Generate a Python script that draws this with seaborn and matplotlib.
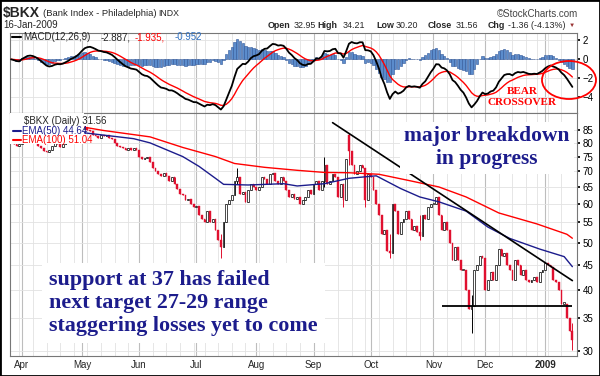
"""
$BKX 日线图 + MACD 面板（StockCharts 风格复刻）
"""

import numpy as np
import pandas as pd
import matplotlib

matplotlib.use("Agg")
import matplotlib.pyplot as plt
import seaborn as sns
from matplotlib.patches import Ellipse, Rectangle
from matplotlib.lines import Line2D
from matplotlib.ticker import FixedLocator, FixedFormatter, NullLocator

# ========== 配置部分 ==========
sns.set_theme(style="white")
plt.rcParams["font.family"] = ["Liberation Sans", "DejaVu Sans"]

W, H = 600, 376  # 像素尺寸

# ========== 数据 ==========
holidays = ["2008-05-26", "2008-07-04", "2008-09-01", "2008-11-27", "2008-12-25", "2009-01-01"]

# 每日收盘价，按月分组
closes_mar = [80.5, 79.5, 79.0, 79.5]
closes_apr = [83, 82.5, 83, 82, 81, 80, 79, 78, 77, 76.5, 77.5, 79, 80, 79.5, 78.5, 79.5,
              80.5, 81, 82, 81.5, 82.5, 84]
closes_may = [85.5, 86, 85, 84.5, 83, 82.5, 82, 83, 82.5, 83, 82, 81.5, 80, 79, 78.5, 78,
              77.5, 78, 77.5, 78, 77.5]
closes_jun = [75, 74, 74.5, 75, 73, 71, 70, 69, 68.5, 69.5, 68.5, 67, 68, 66, 64.5, 63,
              62.5, 61, 61.5, 60, 59]
closes_jul = [59.5, 57, 56, 55, 58, 55, 56, 53, 50.5, 49, 55, 60, 61, 62.5, 67, 68, 63,
              63.5, 60.5, 64, 66, 65]
closes_aug = [64, 65, 68, 67.5, 66, 69, 69.5, 67, 66, 68, 67, 64, 62, 63, 61.5, 62, 60, 61,
              62, 64, 63]
closes_sep = [66, 67, 64, 67, 72, 66, 67, 69, 68, 62, 66, 61, 74, 77, 72, 69, 70, 72, 71,
              61, 69]
closes_oct = [68, 64, 60, 57, 52, 53, 48, 47.5, 60, 58, 52, 55, 56, 58, 56, 53, 54, 52.5,
              51.5, 57, 56, 59, 60]
closes_nov = [60, 62, 57, 53, 55, 53, 50, 46, 49, 46, 44, 44, 40, 36.5, 37, 44, 45, 47, 46.5]
closes_dec = [40, 42, 43.5, 42, 45, 48.5, 47, 47.5, 45, 44, 42, 46, 45, 43, 44, 42, 41.5, 42,
              42.5, 41.5, 43.5, 44]
closes_jan = [45.5, 45, 44.5, 42, 41.5, 40, 37.5, 37.5, 35, 32.92, 31.56]

# 开盘价 = 前一日收盘，个别日期单独给出
open_dates = ["2008-09-19", "2009-01-16"]
open_values = [83, 32.95]

# 明显的影线
wick_dates = ["2008-07-15", "2008-07-23", "2008-09-08", "2008-09-17", "2008-09-19",
              "2008-09-29", "2008-10-10", "2008-10-27", "2008-11-21", "2009-01-16"]
wick_lows = [46.5, 66, 65, 59, 72, 59, 46.6, 50.5, 32.7, 30.2]
wick_highs = [52, 71, 75, 66, 84, 71, 52, 57, 39, 34.21]

# EMA 曲线（采样点）
ema100_dates = ["2008-03-26", "2008-04-15", "2008-05-01", "2008-05-13", "2008-06-06",
                "2008-06-24", "2008-07-11", "2008-07-22", "2008-08-06", "2008-08-22",
                "2008-09-08", "2008-09-19", "2008-10-06", "2008-10-21", "2008-11-05",
                "2008-11-19", "2008-12-08", "2008-12-29", "2009-01-14", "2009-01-16"]
ema100_vals = [89.5, 87.5, 86.3, 84.8, 82.3, 78.3, 75.0, 72.6, 71.3, 70.3, 69.6, 69.5,
               69.0, 67.0, 65.0, 62.0, 57.5, 54.6, 52.0, 51.04]
ema50_dates = ["2008-03-26", "2008-04-15", "2008-05-01", "2008-05-29", "2008-06-06",
               "2008-06-24", "2008-07-02", "2008-07-11", "2008-07-16", "2008-07-29",
               "2008-08-15", "2008-08-22", "2008-09-08", "2008-09-19", "2008-10-03",
               "2008-10-16", "2008-10-27", "2008-11-05", "2008-11-19", "2008-12-02",
               "2008-12-12", "2008-12-30", "2009-01-13", "2009-01-16"]
ema50_vals = [85.5, 84.0, 84.0, 81.6, 80.0, 75.0, 71.6, 67.7, 65.8, 65.6, 66.0, 65.3,
              66.0, 67.7, 68.5, 64.5, 62.0, 60.6, 58.0, 53.8, 51.0, 48.5, 46.8, 44.64]

# 趋势线 / 支撑线
trend_dates = ["2008-09-11", "2009-01-16"]
trend_vals = [88.0, 41.8]
support_dates = ["2008-11-06", "2009-01-16"]
support_val = 37

price_ticks = [30, 35, 40, 45, 50, 55, 60, 65, 70, 75, 80, 85]
macd_ticks = [-4, -2, 0, 2]
month_labels = ["Apr", "May", "Jun", "Jul", "Aug", "Sep", "Oct", "Nov", "Dec", "2009"]

# ========== 数据整理 ==========
closes = (closes_mar + closes_apr + closes_may + closes_jun + closes_jul + closes_aug
          + closes_sep + closes_oct + closes_nov + closes_dec + closes_jan)
days = pd.bdate_range("2008-03-26", "2009-01-16")
days = days[~days.isin(pd.to_datetime(holidays))]
pos = {d: i for i, d in enumerate(days)}


def xpos(dates):
    return [pos[pd.Timestamp(d)] for d in dates]


x = np.arange(len(days))
close = np.array(closes, dtype=float)
opens = np.r_[close[0], close[:-1]]
for i, v in zip(xpos(open_dates), open_values):
    opens[i] = v
lows = np.minimum(opens, close)
highs = np.maximum(opens, close)
for i, lo, hi in zip(xpos(wick_dates), wick_lows, wick_highs):
    lows[i] = min(lows[i], lo)
    highs[i] = max(highs[i], hi)

# MACD(12,26,9)
s = pd.Series(close)
macd = s.ewm(span=12, adjust=False).mean() - s.ewm(span=26, adjust=False).mean()
signal = macd.ewm(span=9, adjust=False).mean()
hist = macd - signal

month_pos = [i for i in range(1, len(days)) if days[i].month != days[i - 1].month]
week_pos = [i for i in range(1, len(days)) if days[i].weekday() < days[i - 1].weekday()]

# ========== 画布 ==========
fig = plt.figure(figsize=(W / 100, H / 100), dpi=100)
fig.patch.set_facecolor("white")


def fx(px):
    return px / W


def fy(py):
    return 1 - py / H


ax_m = fig.add_axes([fx(10), fy(113), 567 / W, 80 / H])
ax_p = fig.add_axes([fx(10), fy(356), 567 / W, 243 / H])

RED = "#e0102f"
NAVY = "#1c1c8c"
XLIM = (-0.4, 207.7)

for ax in (ax_m, ax_p):
    ax.set_xlim(*XLIM)
    ax.set_facecolor("white")
    for sp in ax.spines.values():
        sp.set_color("#777777")
        sp.set_linewidth(0.8)
    ax.xaxis.set_major_locator(FixedLocator(month_pos))
    ax.xaxis.set_minor_locator(FixedLocator(week_pos))
    ax.grid(which="major", axis="x", color="#bdbdbd", lw=0.8)
    ax.grid(which="minor", axis="x", color="#e2e2e2", lw=0.6)
    ax.grid(which="major", axis="y", color="#e2e2e2", lw=0.6)
    ax.set_axisbelow(True)
    ax.yaxis.tick_right()
    ax.tick_params(axis="y", which="both", labelsize=7, length=2, pad=2, colors="black")
    ax.tick_params(axis="x", which="both", length=0)

# ---------- MACD 面板 ----------
ax_m.bar(x, hist, width=0.85, color="#5b8ccc", edgecolor="#2f5597", lw=0.4, zorder=2)
sns.lineplot(x=x, y=signal.values, ax=ax_m, color="red", lw=1.0, zorder=3)
sns.lineplot(x=x, y=macd.values, ax=ax_m, color="black", lw=1.3, zorder=4)
ax_m.set_ylim(-5.65, 2.77)
ax_m.set_yticks(macd_ticks)
ax_m.set_xticklabels([])
ax_m.set_xlabel("")
ax_m.set_ylabel("")

# ---------- 价格面板（对数刻度） ----------
ax_p.set_yscale("log")
up = close >= opens
body_lo = np.minimum(opens, close)
body_h = np.maximum(np.abs(close - opens), 0.25)
ax_p.vlines(x, lows, highs, colors=np.where(up, "black", RED), lw=0.7, zorder=2)
ax_p.bar(x[up], body_h[up], bottom=body_lo[up], width=0.65, color="white",
         edgecolor="black", lw=0.5, zorder=3)
ax_p.bar(x[~up], body_h[~up], bottom=body_lo[~up], width=0.65, color=RED,
         edgecolor=RED, lw=0.3, zorder=3)

sns.lineplot(x=xpos(ema100_dates), y=ema100_vals, ax=ax_p, color="#ff0000", lw=1.0, zorder=4)
sns.lineplot(x=xpos(ema50_dates), y=ema50_vals, ax=ax_p, color=NAVY, lw=1.0, zorder=4)

# 趋势线与支撑线
ax_p.plot(xpos(trend_dates), trend_vals, color="black", lw=1.2, zorder=5)
ax_p.hlines(support_val, *xpos(support_dates), color="black", lw=1.3, zorder=5)

ax_p.set_ylim(29.3, 92.1)
ax_p.yaxis.set_major_locator(FixedLocator(price_ticks))
ax_p.yaxis.set_major_formatter(FixedFormatter([str(t) for t in price_ticks]))
ax_p.yaxis.set_minor_locator(NullLocator())
ax_p.set_xticklabels(month_labels, fontsize=7)
ax_p.get_xticklabels()[-1].set_fontweight("bold")
ax_p.tick_params(axis="x", pad=3)
ax_p.set_xlabel("")
ax_p.set_ylabel("")

# 图例背景
ax_p.add_patch(Rectangle((0, 0.872), 0.1305, 0.128, transform=ax_p.transAxes,
                         facecolor="white", edgecolor="none", zorder=6))


# ========== 文字 ==========
def ftext(px, py, s, **kw):
    kw.setdefault("va", "center")
    kw.setdefault("fontsize", 7)
    return fig.text(fx(px), fy(py), s, **kw)


def fline(x0, x1, py, color, lw=1.5):
    fig.add_artist(Line2D([fx(x0), fx(x1)], [fy(py), fy(py)], color=color, lw=lw))


# 标题行
ftext(3, 13, "$BKX", fontsize=10, fontweight="bold")
ftext(43, 13, "(Bank Index - Philadelphia)", fontsize=6.8)
ftext(158, 13, "INDX", fontsize=6.3)
ftext(497, 14, "\u00a9StockCharts.com", fontsize=7, color="#444444")
ftext(3, 25, "16-Jan-2009", fontsize=7)

quote = [(268, "Open", True), (294, "32.95", False), (317, "High", True),
         (343, "34.21", False), (376, "Low", True), (396, "30.20", False),
         (428, "Close", True), (456, "31.56", False), (488, "Chg", True),
         (508, "-1.36 (-4.13%)", False)]
for px, t, bold in quote:
    ftext(px, 25, t, fontsize=6.4, fontweight="bold" if bold else "normal")
ftext(569, 25, "\u25bc", fontsize=4.5, color="#993333")

# MACD 图例
fline(12, 21, 37, "black")
ftext(23, 37, "MACD(12,26,9)")
ftext(101, 37, "-2.887,")
ftext(135, 37, "-1.935,", color="red")
ftext(175, 37, "-0.952", color="#3070c0")

# 价格图例
ftext(24, 121, "$BKX (Daily) 31.56")
fline(13, 21, 131, NAVY)
ftext(22, 131, "EMA(50) 44.64", color=NAVY)
fline(13, 21, 140, "red")
ftext(22, 140, "EMA(100) 51.04", color="red")

# 注释文字
serif = ["Liberation Serif", "DejaVu Serif"]
ftext(487, 148, "major breakdown\nin progress", family=serif, fontsize=15.5,
      fontweight="bold", color=NAVY, ha="center", multialignment="center",
      linespacing=1.2, bbox=dict(facecolor="white", edgecolor="none", pad=3))
ftext(49, 303, "support at 37 has failed\nnext target 27-29 range\nstaggering losses yet to come",
      family=serif, fontsize=15.8, fontweight="bold", color=NAVY, ha="left",
      linespacing=1.22, bbox=dict(facecolor="white", edgecolor="none", pad=5))
ftext(522, 97, "BEAR\nCROSSOVER", family=serif, fontsize=8, fontweight="bold",
      color="red", ha="center", multialignment="center", linespacing=1.4)

fig.add_artist(Ellipse((fx(569), fy(80)), 54 / W, 38 / H, transform=fig.transFigure,
                       fill=False, edgecolor="red", lw=1.3))

# 外框
fig.add_artist(Rectangle((0, 0), 1, 1, transform=fig.transFigure, fill=False,
                         edgecolor="black", lw=2))

plt.savefig("out.png", dpi=100)
